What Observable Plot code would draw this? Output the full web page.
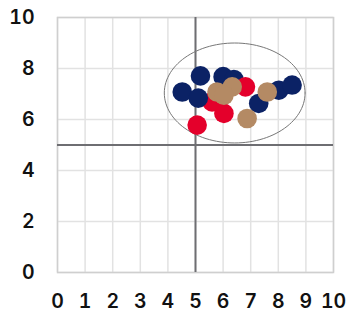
<!DOCTYPE html>
<html><head><meta charset="utf-8">
<script src="https://cdn.jsdelivr.net/npm/d3@7"></script>
<script src="https://cdn.jsdelivr.net/npm/@observablehq/plot@0.6"></script>
<style>body{margin:0;background:#fff;}</style>
</head><body><div id="chart"></div>
<script>
const xTicks = [0,1,2,3,4,5,6,7,8,9,10];
const yTicks = [0,2,4,6,8,10];
const navyX = [4.52, 5.18, 5.1, 6.0, 6.39, 7.29, 8.02, 8.5];
const navyY = [7.08, 7.71, 6.84, 7.68, 7.57, 6.63, 7.15, 7.35];
const redX = [5.06, 5.6, 6.03, 6.81];
const redY = [5.78, 6.69, 6.24, 7.28];
const tanX = [5.78, 6.33, 6.03, 7.6, 6.87];
const tanY = [7.08, 7.28, 6.95, 7.08, 6.04];
const navyOnTop = [2]; // navy points drawn above the red ones
const ellipse = {cx: 6.42, cy: 7.04, rx: 2.55, ry: 1.96};

const pts = [];
navyX.forEach((x,i)=>{ if (!navyOnTop.includes(i)) pts.push({x, y: navyY[i], g:"A"}); });
redX.forEach((x,i)=>pts.push({x, y: redY[i], g:"B"}));
navyOnTop.forEach(i=>pts.push({x: navyX[i], y: navyY[i], g:"A"}));
tanX.forEach((x,i)=>pts.push({x, y: tanY[i], g:"C"}));
const ell = d3.range(0, 361, 3).map(a => ({
  x: ellipse.cx + ellipse.rx*Math.cos(a*Math.PI/180),
  y: ellipse.cy + ellipse.ry*Math.sin(a*Math.PI/180)
}));

const chart = Plot.plot({
  width: 346, height: 317,
  marginLeft: 57, marginRight: 13, marginTop: 17, marginBottom: 45,
  style: {fontFamily: "Inter, sans-serif", fontSize: "19.5px", color: "#111", background: "#fff"},
  x: {domain: [0,10], label: null},
  y: {domain: [0,10], label: null},
  color: {domain: ["A","B","C"], range: ["#0b2265","#e4002b","#b48a64"]},
  marks: [
    Plot.ruleX(xTicks, {stroke: "#e2e2e2", strokeWidth: 1.5}),
    Plot.ruleY(yTicks, {stroke: "#e2e2e2", strokeWidth: 1.5}),
    Plot.frame({stroke: "#cfcfcf", strokeWidth: 1.5}),
    Plot.ruleX([5], {stroke: "#6e6e72", strokeWidth: 2}),
    Plot.ruleY([5], {stroke: "#6e6e72", strokeWidth: 2}),
    Plot.line(ell, {x: "x", y: "y", stroke: "#777", strokeWidth: 1}),
    Plot.dot(pts, {x: "x", y: "y", fill: "g", r: 9.8, stroke: "none"}),
    Plot.axisX({ticks: xTicks, tickSize: 0, tickPadding: 22, fontWeight: 600, fontSize: 19.5, label: null}),
    Plot.axisY({ticks: yTicks, tickSize: 0, tickPadding: 23, fontWeight: 600, fontSize: 19.5, label: null})
  ]
});
document.getElementById("chart").appendChild(chart);
</script></body></html>
